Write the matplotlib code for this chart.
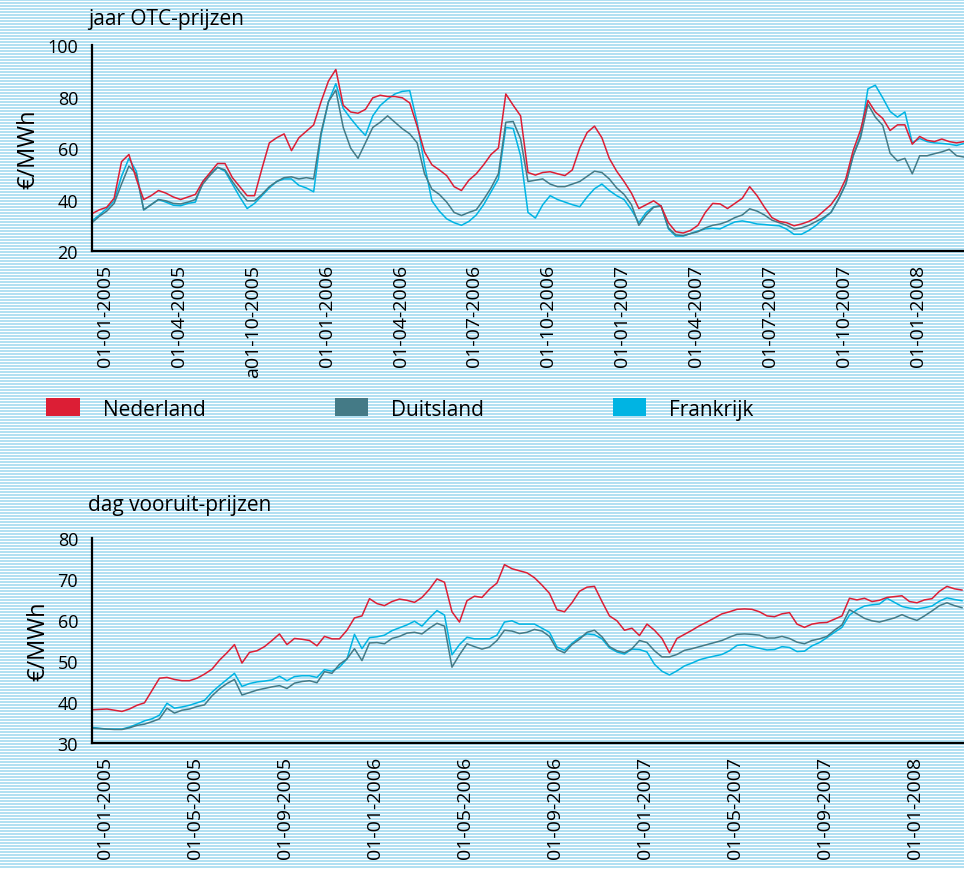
import numpy as np
import matplotlib as mpl
import matplotlib.pyplot as plt
from matplotlib.patches import Patch

mpl.rcParams['font.family'] = ['Open Sans', 'DejaVu Sans']

# jaar OTC-prijzen, EUR/MWh at even steps
otc_nl = [34.5, 36, 37, 40.5, 54.7, 57.5, 48, 40, 41.5, 43.5,
          42.5, 41, 40, 41, 42, 47, 50.5, 54, 54, 48.5,
          45, 41.5, 41.5, 52, 62, 64, 65.5, 59, 64, 66.5,
          69, 78, 86, 90.5, 76.6, 74, 73.5, 75, 79.5, 80.5,
          80, 80, 79.5, 77.5, 68.5, 58.5, 53.5, 51.5, 49.3, 45,
          43.5, 47.5, 50, 53.5, 57.5, 60, 81, 76.6, 72.5, 50.5,
          49.5, 50.5, 50.8, 50, 49.3, 51.5, 60, 66, 68.5, 64,
          56, 51, 47, 42.5, 36.5, 38, 39.5, 37.5, 31, 27.5,
          27, 28, 30, 35, 38.5, 38.3, 36.5, 38.5, 40.5, 45,
          41.5, 37, 33, 31.5, 31, 29.8, 30.5, 31.5, 33, 35.5,
          38, 42, 48, 59, 67, 78.5, 74, 71.5, 66.8, 69,
          69, 61.5, 64.5, 63, 62.5, 63.5, 62.5, 62, 62.5]
otc_de = [31, 33.5, 35.5, 38.5, 46, 53, 50, 36, 38, 40,
          39.5, 38.5, 38.3, 39, 40, 46, 49.5, 52.5, 51.5, 47,
          43, 39.5, 39.5, 42, 45, 47, 48.5, 48.8, 48, 48.5,
          48, 66, 78, 82.5, 68, 60, 56, 62, 68, 70,
          72.5, 70, 67.5, 65.5, 62, 50, 44, 42, 39, 35,
          33.8, 35, 36, 40, 44.5, 50, 70, 70.3, 63.5, 47,
          47.5, 48, 46, 45, 45, 46, 47, 49, 51, 50.5,
          48, 44.5, 42, 38, 30, 34, 37, 37.5, 29, 26.3,
          26, 26.8, 27.5, 29, 30, 30.5, 31.5, 33, 34, 36.4,
          35.5, 34, 32, 31, 30, 28.5, 29, 30, 31.5, 33,
          35, 40, 46, 57, 64, 77, 72, 68.8, 58, 55,
          56, 50, 57, 57, 57.8, 58.5, 59.5, 57, 56.5]
otc_fr = [31.7, 34, 36.5, 39.5, 49, 56, 51, 36, 38, 40,
          39, 37.8, 37.6, 38.5, 39, 47, 50, 52.5, 51, 46,
          41, 36.5, 38.5, 41.5, 44.5, 47, 48, 48, 45.5, 44.5,
          43, 65, 78, 85, 75.4, 71.5, 68, 64.9, 72.5, 76.5,
          79, 81, 82, 82.3, 70, 53.5, 39.5, 35.5, 32.5, 31,
          30, 31.5, 34, 38, 43, 48, 68, 67.6, 57, 35,
          32.8, 38, 41.5, 40, 39, 38, 37.2, 41, 44.2, 46,
          43.5, 41.5, 40, 36, 31, 35, 37.2, 37.6, 28.6, 25.8,
          25.8, 26.8, 27.8, 28.6, 28.8, 28.6, 30, 31.3, 31.7, 31.2,
          30.5, 30.3, 30, 29.8, 28.5, 26.5, 26.5, 28, 30, 32.5,
          35, 40, 46, 57, 65, 83, 84.4, 79.5, 74.2, 72,
          74, 62, 63.7, 62.5, 62, 61.8, 61.5, 61, 61.8]
otc_labels = ['01-01-2005', '01-04-2005', 'a01-10-2005', '01-01-2006',
              '01-04-2006', '01-07-2006', '01-10-2006', '01-01-2007',
              '01-04-2007', '01-07-2007', '01-10-2007', '01-01-2008']

# dag vooruit-prijzen, EUR/MWh
dag_nl = [38.1, 38.2, 38.3, 38, 37.7, 38.3, 39.2, 39.8, 42.8, 45.8,
          46, 45.5, 45.2, 45.2, 45.8, 46.8, 48, 50.2, 52, 54,
          49.5, 52.1, 52.5, 53.5, 55, 56.6, 54, 55.5, 55.3, 55,
          53.7, 56, 55.4, 55.4, 57.5, 60.5, 61, 65.2, 64, 63.5,
          64.5, 65.1, 64.8, 64.3, 65.5, 67.5, 70, 69.2, 62, 59.5,
          64.7, 65.8, 65.5, 67.5, 69, 73.5, 72.5, 72, 71.5, 70.3,
          68.5, 66.5, 62.5, 62, 64.2, 67, 68, 68.2, 64.5, 61,
          59.8, 57.5, 58, 56.2, 59, 57.5, 55.5, 52, 55.5, 56.5,
          57.5, 58.6, 59.5, 60.5, 61.5, 62, 62.6, 62.7, 62.6, 62,
          61, 60.8, 61.5, 61.8, 59, 58.2, 59, 59.3, 59.4, 60.2,
          61, 65.3, 64.9, 65.3, 64.5, 64.8, 65.5, 65.7, 65.9, 64.5,
          64.2, 64.9, 65.2, 67, 68.2, 67.6, 67.3]
dag_de = [33.6, 33.5, 33.4, 33.3, 33.3, 33.7, 34.3, 34.6, 35.2, 35.9,
          38.5, 37.3, 38, 38.3, 38.9, 39.3, 41.5, 43.2, 44.5, 45.5,
          41.7, 42.3, 42.9, 43.3, 43.7, 44, 43.3, 44.6, 45, 45.2,
          44.7, 47.4, 47, 49.2, 50.5, 53, 50.1, 54.4, 54.5, 54.2,
          55.5, 56, 56.8, 57, 56.6, 58, 59.2, 58.5, 48.5, 51.5,
          54.2, 53.5, 52.9, 53.4, 55, 57.5, 57.3, 56.7, 57, 57.7,
          57.3, 56, 52.8, 52, 54, 55.3, 57, 57.5, 55.9, 53.5,
          52.5, 52, 53, 55, 54.5, 52.5, 51, 51, 51.6, 52.6,
          53, 53.5, 54, 54.5, 55, 55.8, 56.5, 56.6, 56.5, 56.3,
          55.6, 55.6, 56, 55.5, 54.6, 54.2, 55, 55.4, 56, 57.5,
          58.8, 62.5, 61.5, 60.4, 59.8, 59.5, 60, 60.5, 61.3, 60.5,
          59.9, 61, 62.2, 63.5, 64.2, 63.5, 63]
dag_fr = [33.8, 33.6, 33.4, 33.4, 33.4, 33.9, 34.6, 35.4, 35.9, 36.8,
          39.7, 38.5, 38.8, 39.2, 39.8, 40.4, 42.4, 44, 45.5, 47,
          43.8, 44.5, 44.9, 45.1, 45.4, 46.3, 45.2, 46.2, 46.4, 46.4,
          46, 47.9, 47.5, 48.5, 50.5, 56.5, 53, 55.7, 55.9, 56.3,
          57.4, 58.1, 58.8, 59.7, 58.5, 60.5, 62.3, 61.2, 51.5, 54,
          55.8, 55.4, 55.4, 55.4, 56.3, 59.5, 59.8, 59, 59, 59,
          58, 57, 53.4, 52.6, 54.3, 55.7, 56.6, 56.4, 55.4, 53.2,
          52.2, 51.7, 52.9, 52.8, 52.2, 49.2, 47.5, 46.6, 47.6, 48.8,
          49.5, 50.3, 50.8, 51.2, 51.6, 52.5, 53.8, 54, 53.5, 53.1,
          52.7, 52.8, 53.5, 53.3, 52.3, 52.4, 53.7, 54.5, 55.7, 57,
          58.2, 61.2, 62.5, 63.4, 63.7, 63.9, 65.3, 64.3, 63.3, 62.9,
          62.7, 63, 63.4, 64.6, 65.4, 65, 64.7]
dag_labels = ['01-01-2005', '01-05-2005', '01-09-2005', '01-01-2006',
              '01-05-2006', '01-09-2006', '01-01-2007', '01-05-2007',
              '01-09-2007', '01-01-2008']

landen = ['Nederland', 'Duitsland', 'Frankrijk']
kleuren = ['#dc1e35', '#447a86', '#00b4e3']

fig = plt.figure(figsize=(9.64, 8.70), dpi=100)

# striped background
bg = fig.add_axes([0, 0, 1, 1], zorder=-10)
stripe = np.ones((870, 1, 3))
stripe[np.arange(870) % 3 != 2] = [0.70, 0.88, 0.95]
bg.imshow(stripe, aspect='auto', interpolation='nearest')
bg.axis('off')


def style_axes(ax, yticks, ticks, labels):
  ax.set_facecolor('none')
  for s in ['top', 'right']:
    ax.spines[s].set_visible(False)
  for s in ['left', 'bottom']:
    ax.spines[s].set_linewidth(1.6)
  ax.set_yticks(yticks)
  ax.set_ylim(yticks[0], yticks[-1])
  ax.set_xticks(ticks)
  ax.set_xticklabels(labels, rotation=90, fontsize=14)
  ax.tick_params(axis='x', length=0, pad=9)
  ax.tick_params(axis='y', length=0, pad=10, labelsize=13)
  ax.set_ylabel('€/MWh', fontsize=17, labelpad=5)


# top: jaar OTC-prijzen
ax1 = fig.add_axes([0.0954, 0.7103, 0.9046, 0.2368])
x1 = np.arange(len(otc_nl))
ax1.plot(x1, otc_fr, color=kleuren[2], lw=1.1)
ax1.plot(x1, otc_de, color=kleuren[1], lw=1.1)
ax1.plot(x1, otc_nl, color=kleuren[0], lw=1.1)
ax1.set_xlim(0, 118)
style_axes(ax1, [20, 40, 60, 80, 100], 1.75 + 10 * np.arange(len(otc_labels)), otc_labels)
fig.text(88 / 964, 1 - 20 / 870, 'jaar OTC-prijzen', fontsize=15, va='center')

# bottom: dag vooruit-prijzen
ax2 = fig.add_axes([0.0954, 0.1448, 0.9046, 0.2357])
x2 = np.arange(len(dag_nl))
ax2.plot(x2, dag_fr, color=kleuren[2], lw=1.1)
ax2.plot(x2, dag_de, color=kleuren[1], lw=1.1)
ax2.plot(x2, dag_nl, color=kleuren[0], lw=1.1)
ax2.set_xlim(0, 116.27)
style_axes(ax2, [30, 40, 50, 60, 70, 80], 1.73 + 12 * np.arange(len(dag_labels)), dag_labels)
fig.text(88 / 964, 1 - 505 / 870, 'dag vooruit-prijzen', fontsize=15, va='center')

handles = [Patch(facecolor=c, edgecolor='none') for c in kleuren]
fig.legend(handles, landen, loc='center left', bbox_to_anchor=(36 / 964, 1 - 410 / 870),
           ncol=3, frameon=False, fontsize=15, handlelength=1.6, handleheight=0.95,
           handletextpad=1.1, columnspacing=6.2, borderpad=0)

fig.savefig('out.png', dpi=100)
